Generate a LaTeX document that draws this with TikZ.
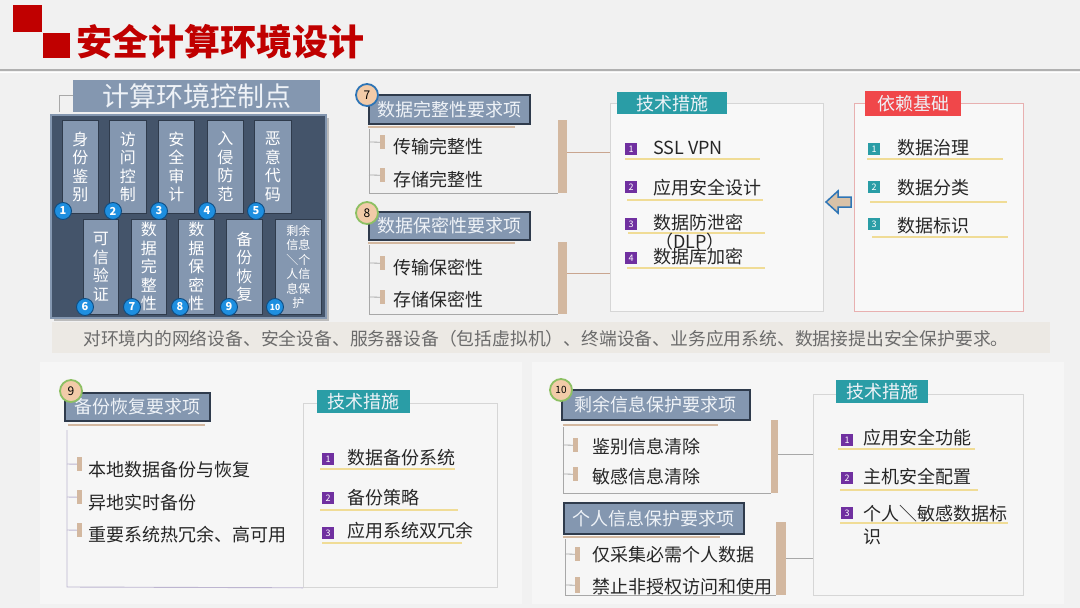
\documentclass[tikz,border=0pt]{standalone}
\usepackage{fontspec}
\setmainfont{Noto Sans CJK SC}
\usetikzlibrary{calc}
\definecolor{bgc}{HTML}{F1F1F1}
\definecolor{panelw}{HTML}{F6F6F6}
\definecolor{titlered}{HTML}{C00000}
\definecolor{slate}{HTML}{8497B0}
\definecolor{darkslate}{HTML}{44546A}
\definecolor{hdrborder}{HTML}{2F3B4C}
\definecolor{hdrtext}{HTML}{EEF2F7}
\definecolor{tealhdr}{HTML}{2A9DA6}
\definecolor{sqpurple}{HTML}{7030A0}
\definecolor{redhdr}{HTML}{F0474A}
\definecolor{tanc}{HTML}{D3B8A0}
\definecolor{goldc}{HTML}{F0DC96}
\definecolor{brkgray}{HTML}{A8A8A8}
\definecolor{lilac}{HTML}{BDB5D0}
\definecolor{framegray}{HTML}{D6D6D6}
\definecolor{pinkframe}{HTML}{E8B0B0}
\definecolor{numblue}{HTML}{1E8FE0}
\definecolor{numdark}{HTML}{0F4C81}
\definecolor{peach}{HTML}{F2CBA8}
\definecolor{ringblue}{HTML}{2E75B6}
\definecolor{ringgreen}{HTML}{8DC063}
\definecolor{textdark}{HTML}{262626}
\definecolor{bandc}{HTML}{ECE9E4}
\definecolor{bandtext}{HTML}{6B6B6B}
\definecolor{hdrline}{HTML}{B0B0B0}
\definecolor{linktan}{HTML}{C9A58F}
\definecolor{arrowtan}{HTML}{D9C2A8}
\begin{document}
\begin{tikzpicture}[x=1pt,y=-1pt,
  ctl/.style={draw=hdrborder, line width=0.6, fill=slate, text=white, inner sep=0, anchor=north west, align=center, font=\fontsize{16}{18.5}\selectfont},
  numc/.style={circle, fill=numblue, draw=numdark, line width=0.9, minimum size=17, inner sep=0, text=white, font=\fontsize{11}{11}\selectfont\bfseries},
  sechdr/.style={fill=slate, draw=hdrborder, line width=1.8, text=hdrtext, inner sep=0, anchor=north west, font=\fontsize{18}{20}\selectfont},
  secnum/.style={circle, fill=peach, line width=1.8, minimum size=22, inner sep=0, text=black, font=\fontsize{12}{12}\selectfont},
  itemtext/.style={anchor=west, inner sep=0, text=textdark, font=\fontsize{18}{20}\selectfont},
  tbar/.style={fill=tanc, inner sep=0, anchor=north west, minimum width=5, minimum height=14},
  bigbar/.style={fill=tanc, inner sep=0, anchor=north west, minimum width=9},
  techhdr/.style={fill=tealhdr, text=hdrtext, inner sep=0, anchor=north west, font=\fontsize{18}{20}\selectfont},
  sq/.style={fill=sqpurple, text=white, minimum size=12, inner sep=0, anchor=north west, font=\fontsize{9}{9}\selectfont},
  boxframe/.style={draw=framegray, line width=0.8, inner sep=0, anchor=north west},
  uline/.style={draw=goldc, line width=1.2},
  brk/.style={draw=brkgray, line width=0.8},
  lbrk/.style={draw=lilac, line width=0.9},
  tanline/.style={draw=tanc, line width=1.5},
  link/.style={draw=linktan, line width=0.9}
]
\useasboundingbox (0,0) rectangle (1080,608);
\fill[bgc] (0,0) rectangle (1080,608);
\fill[panelw] (40,362) rectangle (522,604);
\fill[panelw] (532,362) rectangle (1064,604);

% ---------- header ----------
\fill[titlered] (13,5) rectangle (42,32);
\fill[titlered] (43,33) rectangle (70,58);
\node[anchor=west, inner sep=0, text=titlered, font=\fontsize{36}{40}\selectfont\bfseries] (title) at (76,42) {安全计算环境设计};
\draw[line width=2.5, hdrline] (0,70) -- (1080,70);
\draw[line width=1.5, white] (0,72.5) -- (1080,72.5);

% ---------- control points panel ----------
\fill[black, opacity=0.22] (54,118) rectangle (329,321);
\node[draw=slate, line width=1.5, fill=darkslate, minimum width=275, minimum height=203, anchor=north west, inner sep=0] (panel) at (50,114) {};
\node[fill=slate, minimum width=247, minimum height=32, anchor=north west, inner sep=0, text=hdrtext, font=\fontsize{27}{30}\selectfont] (cptitle) at (73,80) {计算环境控制点};
\draw[brk] (cptitle.west |- 0,95) -- (59,95) -- (59,112);

\node[ctl, minimum width=36, minimum height=93] (k1) at (62,120) {身\\份\\鉴\\别};
\node[ctl, minimum width=37, minimum height=93] (k2) at (109,120) {访\\问\\控\\制};
\node[ctl, minimum width=36, minimum height=93] (k3) at (158,120) {安\\全\\审\\计};
\node[ctl, minimum width=36, minimum height=93] (k4) at (207,120) {入\\侵\\防\\范};
\node[ctl, minimum width=37, minimum height=93] (k5) at (254,120) {恶\\意\\代\\码};
\node[ctl, minimum width=35, minimum height=95] (k6) at (83,219) {可\\信\\验\\证};
\node[ctl, minimum width=35, minimum height=95] (k7) at (131,219) {数\\据\\完\\整\\性};
\node[ctl, minimum width=36, minimum height=95] (k8) at (178,219) {数\\据\\保\\密\\性};
\node[ctl, minimum width=36, minimum height=95] (k9) at (226,219) {备\\份\\恢\\复};
\node[ctl, minimum width=46, minimum height=95, font=\fontsize{12}{14.5}\selectfont] (k10) at (275,219) {剩余\\信息\\＼个\\人信\\息保\\护};

\node[numc] (n1) at (63,211) {1};
\node[numc] (n2) at (113,211) {2};
\node[numc] (n3) at (159,211) {3};
\node[numc] (n4) at (207,211) {4};
\node[numc] (n5) at (256,211) {5};
\node[numc] (n6) at (85,307) {6};
\node[numc] (n7) at (132,307) {7};
\node[numc] (n8) at (180,307) {8};
\node[numc] (n9) at (229,307) {9};
\node[numc, font=\fontsize{8.5}{8.5}\selectfont\bfseries] (n10) at (275,307) {10};

% ---------- section 7 ----------
\node[sechdr, minimum width=161, minimum height=29] (h7) at (368,94) {数据完整性要求项};
\node[secnum, draw=ringblue] (c7) at (367,95) {7};
\draw[tanline] (368,127) -- (515,127);
\draw[brk] (369,129) -- (369,193) -- (558,193);
\node[tbar] (b71) at (380,135) {};
\draw[brk] (369,142) -- (b71.west);
\node[itemtext] (t71) at (393,147) {传输完整性};
\node[tbar] (b72) at (380,168) {};
\draw[brk] (369,175) -- (b72.west);
\node[itemtext] (t72) at (393,180) {存储完整性};
\node[bigbar, minimum height=73] (bb7) at (558,120) {};

% ---------- section 8 ----------
\node[sechdr, minimum width=161, minimum height=28] (h8) at (368,211) {数据保密性要求项};
\node[secnum, draw=ringgreen] (c8) at (367,213) {8};
\draw[tanline] (368,243) -- (515,243);
\draw[brk] (369,245) -- (369,314) -- (558,314);
\node[tbar] (b81) at (380,256) {};
\draw[brk] (369,263) -- (b81.west);
\node[itemtext] (t81) at (393,268) {传输保密性};
\node[tbar] (b82) at (380,290) {};
\draw[brk] (369,297) -- (b82.west);
\node[itemtext] (t82) at (393,300) {存储保密性};
\node[bigbar, minimum height=72] (bb8) at (558,242) {};

% ---------- tech box 1 ----------
\node[boxframe, fill=white, fill opacity=0.5, minimum width=213, minimum height=208] (T1) at (610,103) {};
\node[techhdr, minimum width=110, minimum height=22] (th1) at (617,92) {技术措施};
\node[sq] (s11) at (625,143) {1};
\node[itemtext] (u11) at (653,148) {SSL VPN};
\draw[uline] (625,159) -- (760,159);
\node[sq] (s12) at (625,181) {2};
\node[itemtext] (u12) at (653,188) {应用安全设计};
\draw[uline] (627,200) -- (763,200);
\node[sq] (s13) at (625,218) {3};
\node[itemtext] (u13) at (653,223) {数据防泄密};
\draw[uline] (628,233) -- (765,233);
\node[inner sep=0, text=textdark, font=\fontsize{18}{20}\selectfont] (u13b) at (690,242) {（DLP）};
\node[sq] (s14) at (625,252) {4};
\node[itemtext] (u14) at (653,257) {数据库加密};
\draw[uline] (627,268) -- (765,268);

\coordinate (k7l) at ($(bb7.east)+(0,-4)$);
\draw[link] (k7l) -- (k7l -| T1.west);
\coordinate (k8l) at ($(bb8.east)+(0,-5)$);
\draw[link] (k8l) -- (k8l -| T1.west);

% ---------- dependency box ----------
\node[boxframe, draw=pinkframe, fill=white, fill opacity=0.5, minimum width=169, minimum height=208] (D) at (854,103) {};
\node[fill=redhdr, text=hdrtext, inner sep=0, anchor=north west, font=\fontsize{18}{20}\selectfont, minimum width=96, minimum height=25] (dh) at (865,91) {依赖基础};
\node[sq, fill=tealhdr] (d1) at (868,143) {1};
\node[itemtext] (v1) at (897,148) {数据治理};
\draw[uline] (867,159) -- (1003,159);
\node[sq, fill=tealhdr] (d2) at (868,181) {2};
\node[itemtext] (v2) at (897,188) {数据分类};
\draw[uline] (870,202) -- (1007,202);
\node[sq, fill=tealhdr] (d3) at (868,218) {3};
\node[itemtext] (v3) at (897,226) {数据标识};
\draw[uline] (872,237) -- (1008,237);

% hollow arrow
\draw[draw=ringblue, fill=arrowtan, line width=1.5, line join=miter] (826,202) -- (838,191) -- (838,197) -- (851,197) -- (851,207) -- (838,207) -- (838,213) -- cycle;

% ---------- band ----------
\fill[bandc] (52,322) rectangle (1050,353);
\node[anchor=west, inner sep=0, text=bandtext, font=\fontsize{17.8}{20}\selectfont] (band) at (83,339) {对环境内的网络设备、安全设备、服务器设备（包括虚拟机）、终端设备、业务应用系统、数据接提出安全保护要求。};

% ---------- section 9 ----------
\node[sechdr, minimum width=145, minimum height=28] (h9) at (64,392) {备份恢复要求项};
\node[secnum, draw=ringgreen] (c9) at (71,391) {9};
\draw[tanline] (68,425) -- (205,425);
\node[boxframe, minimum width=194, minimum height=184] (T2) at (303,403) {};
\draw[lbrk] (67,430) -- (67,587) -- (T2.south west);
\node[tbar] (b91) at (77,457) {};
\draw[lbrk] (67,464) -- (b91.west);
\node[itemtext] (t91) at (88,470) {本地数据备份与恢复};
\node[tbar] (b92) at (77,490) {};
\draw[lbrk] (67,497) -- (b92.west);
\node[itemtext] (t92) at (88,503) {异地实时备份};
\node[tbar] (b93) at (77,523) {};
\draw[lbrk] (67,530) -- (b93.west);
\node[itemtext] (t93) at (88,535) {重要系统热冗余、高可用};
\node[techhdr, minimum width=93, minimum height=23] (th2) at (317,390) {技术措施};
\node[sq] (s21) at (322,453) {1};
\node[itemtext] (u21) at (347,458) {数据备份系统};
\draw[uline] (320,469) -- (455,469);
\node[sq] (s22) at (322,492) {2};
\node[itemtext] (u22) at (347,498) {备份策略};
\draw[uline] (320,510) -- (458,510);
\node[sq] (s23) at (322,527) {3};
\node[itemtext] (u23) at (347,531) {应用系统双冗余};
\draw[uline] (322,543) -- (462,543);

% ---------- section 10 ----------
\node[sechdr, minimum width=188, minimum height=30] (h10) at (561,389) {剩余信息保护要求项};
\node[secnum, draw=ringgreen, font=\fontsize{10}{10}\selectfont] (c10) at (561,390) {10};
\draw[tanline] (563,425) -- (718,425);
\draw[brk] (563,427) -- (563,493) -- (771,493);
\node[tbar] (b101) at (573,438) {};
\draw[brk] (563,445) -- (b101.west);
\node[itemtext] (t101) at (592,447) {鉴别信息清除};
\node[tbar] (b102) at (573,467) {};
\draw[brk] (563,474) -- (b102.west);
\node[itemtext] (t102) at (592,477) {敏感信息清除};
\node[bigbar, minimum width=7, minimum height=73] (bb10) at (771,420) {};

\node[sechdr, minimum width=180, minimum height=31] (h11) at (563,502) {个人信息保护要求项};
\draw[tanline] (563,537) -- (720,537);
\draw[brk] (565,539) -- (565,595) -- (776,595);
\node[tbar] (b111) at (575,547) {};
\draw[brk] (565,554) -- (b111.west);
\node[itemtext] (t111) at (592,555) {仅采集必需个人数据};
\node[tbar, minimum height=16] (b112) at (575,577) {};
\draw[brk] (565,585) -- (b112.west);
\node[itemtext] (t112) at (592,587) {禁止非授权访问和使用};
\node[bigbar, minimum width=10, minimum height=73] (bb11) at (776,522) {};

\node[boxframe, minimum width=210, minimum height=201] (T3) at (813,394) {};
\node[techhdr, minimum width=92, minimum height=23] (th3) at (836,380) {技术措施};
\coordinate (k10l) at ($(bb10.east)+(0,-2)$);
\draw[brk] (k10l) -- (k10l -| T3.west);
\coordinate (k11l) at ($(bb11.east)+(0,0)$);
\draw[brk] (k11l) -- (k11l -| T3.west);
\node[sq] (s31) at (841,434) {1};
\node[itemtext] (u31) at (863,438) {应用安全功能};
\draw[uline] (838,449) -- (975,449);
\node[sq] (s32) at (841,472) {2};
\node[itemtext] (u32) at (863,477) {主机安全配置};
\draw[uline] (840,490) -- (978,490);
\node[sq] (s33) at (841,507) {3};
\node[itemtext] (u33) at (863,514) {个人＼敏感数据标};
\draw[uline] (840,523) -- (1008,523);
\node[itemtext] (u33b) at (863,537) {识};
\end{tikzpicture}
\end{document}
